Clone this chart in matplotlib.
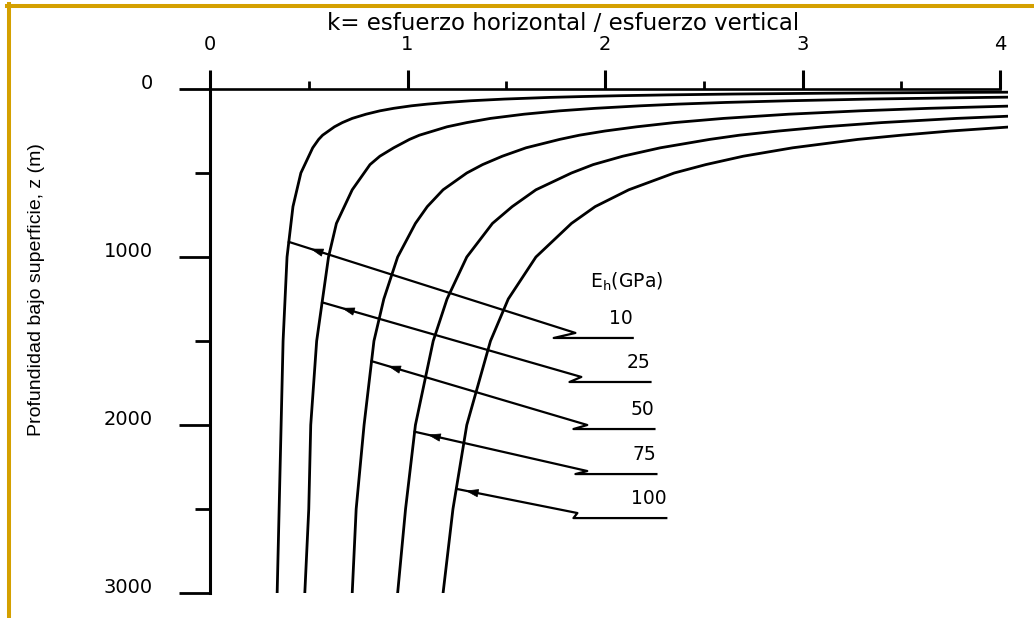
import numpy as np
import matplotlib
matplotlib.use("Agg")
import matplotlib.pyplot as plt
from matplotlib.lines import Line2D
from matplotlib.ticker import MultipleLocator

# profundidad bajo superficie (m) y k leido sobre cada curva
depth = [15, 20, 25, 30, 35, 40, 45, 50, 60, 70, 80, 90, 100, 115, 130, 150,
         175, 200, 225, 250, 275, 300, 350, 400, 450, 500, 600, 700, 800,
         1000, 1250, 1500, 2000, 2500, 3000]
eh_labels = ["10", "25", "50", "75", "100"]
k_eh10 = [4.99, 3.82, 3.12, 2.65, 2.32, 2.07, 1.88, 1.72, 1.49, 1.32, 1.20,
          1.10, 1.02, 0.93, 0.86, 0.79, 0.72, 0.67, 0.63, 0.60, 0.57, 0.55,
          0.52, 0.50, 0.48, 0.46, 0.44, 0.42, 0.41, 0.39, 0.38, 0.37, 0.36,
          0.35, 0.34]
k_eh25 = [12.09, 9.18, 7.43, 6.26, 5.42, 4.80, 4.31, 3.93, 3.34, 2.93, 2.61,
          2.37, 2.18, 1.95, 1.77, 1.59, 1.42, 1.30, 1.20, 1.13, 1.06, 1.01,
          0.93, 0.86, 0.81, 0.78, 0.72, 0.68, 0.64, 0.60, 0.57, 0.54, 0.51,
          0.50, 0.48]
k_eh50 = [23.93, 18.10, 14.60, 12.27, 10.60, 9.35, 8.38, 7.60, 6.43, 5.60, 4.98,
          4.49, 4.10, 3.64, 3.29, 2.93, 2.60, 2.35, 2.16, 2.00, 1.87, 1.77,
          1.60, 1.48, 1.38, 1.30, 1.18, 1.10, 1.04, 0.95, 0.88, 0.83, 0.78,
          0.74, 0.72]
k_eh75 = [35.78, 27.03, 21.78, 18.28, 15.78, 13.90, 12.44, 11.28, 9.53, 8.28, 7.34,
          6.61, 6.03, 5.34, 4.81, 4.28, 3.78, 3.40, 3.11, 2.88, 2.68, 2.53,
          2.28, 2.09, 1.94, 1.83, 1.65, 1.53, 1.43, 1.30, 1.20, 1.13, 1.04,
          0.99, 0.95]
k_eh100 = [47.62, 35.95, 28.95, 24.28, 20.95, 18.45, 16.51, 14.95, 12.62, 10.95, 9.70,
           8.73, 7.95, 7.04, 6.33, 5.62, 4.95, 4.45, 4.06, 3.75, 3.50, 3.28,
           2.95, 2.70, 2.51, 2.35, 2.12, 1.95, 1.83, 1.65, 1.51, 1.42, 1.30,
           1.23, 1.18]
curves = [k_eh10, k_eh25, k_eh50, k_eh75, k_eh100]

# flechas de rotulo: profundidad de arranque sobre la curva, quiebre y subrayado
lead_depth = [910, 1270, 1620, 2040, 2380]
tip_k = [1.85, 1.88, 1.91, 1.91, 1.86]
tip_d = [1452, 1714, 2000, 2274, 2524]
foot_k = [1.74, 1.82, 1.84, 1.85, 1.84]
line_d = [1482, 1744, 2024, 2292, 2554]
end_k = [2.14, 2.23, 2.25, 2.26, 2.31]

W, H = 1034, 618
fig = plt.figure(figsize=(W / 100, H / 100), dpi=100)
ax = fig.add_axes([210 / W, 25 / H, 798 / W, 504 / H])

for k in curves:
    ax.plot(k, depth, color="black", lw=2.0, solid_joinstyle="round")

for i, lab in enumerate(eh_labels):
    k0 = np.interp(lead_depth[i], depth, curves[i])
    start = np.array([k0, lead_depth[i]])
    tip = np.array([tip_k[i], tip_d[i]])
    ax.plot([start[0], tip[0], foot_k[i], end_k[i]],
            [start[1], tip[1], line_d[i], line_d[i]],
            color="black", lw=1.6)
    head = start + 0.075 * (tip - start)
    ax.annotate("", xy=head, xytext=head + 0.03 * (tip - start),
                arrowprops=dict(arrowstyle="-|>,head_length=0.7,head_width=0.22",
                                color="black", lw=0.5, shrinkA=0, shrinkB=0,
                                mutation_scale=12))
    ax.text(end_k[i], line_d[i] - 85, lab, ha="right", va="baseline",
            fontsize=13.5, family="DejaVu Sans")

ax.text(1.924, 1185, r"$\mathregular{E_h}$(GPa)", ha="left", va="baseline",
        fontsize=13.5, family="DejaVu Sans")

ax.set_xlim(0, 4.04)
ax.set_ylim(3000, 0)
ax.xaxis.tick_top()
ax.xaxis.set_major_locator(MultipleLocator(1))
ax.xaxis.set_minor_locator(MultipleLocator(0.5))
ax.yaxis.set_major_locator(MultipleLocator(1000))
ax.yaxis.set_minor_locator(MultipleLocator(500))
ax.set_xticks([0, 1, 2, 3, 4])

for side in ["right", "bottom"]:
    ax.spines[side].set_visible(False)
ax.spines["top"].set_bounds(0, 4)
ax.spines["top"].set_linewidth(1.9)
ax.spines["left"].set_linewidth(2.2)

ax.tick_params(axis="x", which="major", direction="out", length=13.5, width=2.2,
               pad=12, labelsize=14)
ax.tick_params(axis="x", which="minor", direction="out", length=5.5, width=2.0)
ax.tick_params(axis="y", which="major", direction="out", length=22, width=2.0,
               pad=19, labelsize=14)
ax.tick_params(axis="y", which="minor", direction="out", length=11, width=2.0)
for t in ax.get_yticklabels():
    t.set_va("baseline")

fig.text(563 / W, 1 - 24 / H, "k= esfuerzo horizontal / esfuerzo vertical",
         ha="center", va="center", fontsize=16.5, family="DejaVu Sans")
fig.text(37 / W, 1 - 290 / H, "Profundidad bajo superficie, z (m)",
         rotation=90, ha="center", va="center", fontsize=14,
         family="Liberation Sans")

# marco dorado
gold = "#D4A000"
fig.add_artist(Line2D([7 / W, 1], [1 - 6 / H] * 2, transform=fig.transFigure,
                      color=gold, lw=2.9))
fig.add_artist(Line2D([9 / W] * 2, [0, 1 - 4 / H], transform=fig.transFigure,
                      color=gold, lw=2.9))

fig.savefig("out.png", dpi=100)
